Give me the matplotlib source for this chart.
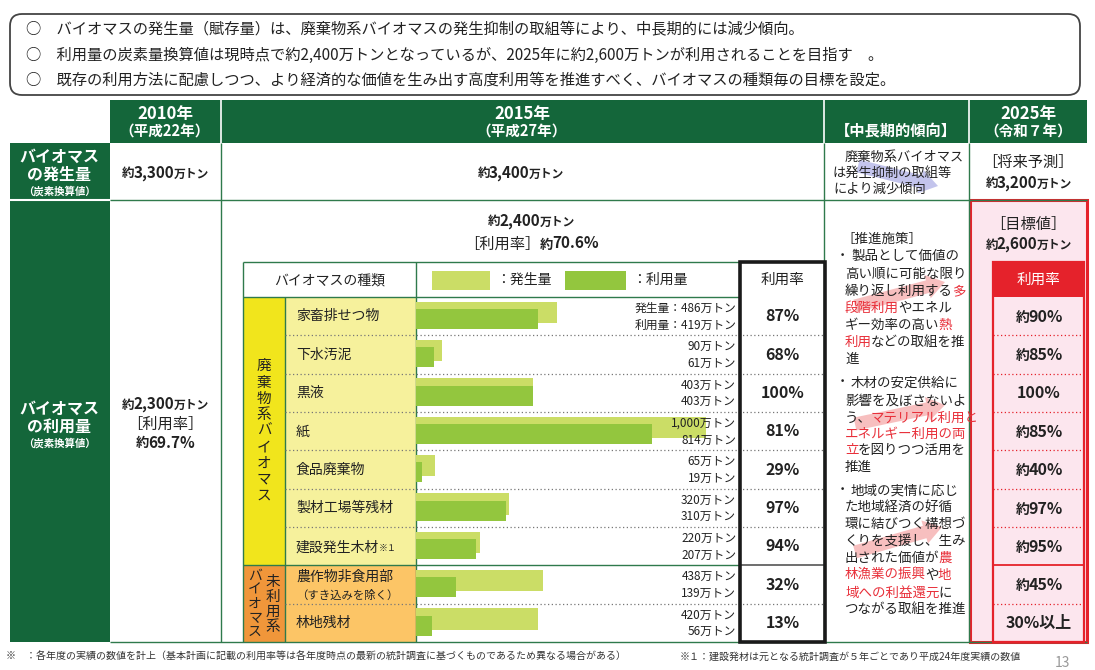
import matplotlib

matplotlib.use("Agg")
import matplotlib.pyplot as plt  # noqa: E402
import numpy as np  # noqa: E402
from matplotlib.patches import FancyArrow, FancyBboxPatch, Rectangle  # noqa: E402

plt.rcParams["font.family"] = ["Noto Sans CJK JP", "DejaVu Sans"]

W, H = 1095, 670

# --- data -------------------------------------------------------------------
SUMMARY = [
    "○　バイオマスの発生量（賦存量）は、廃棄物系バイオマスの発生抑制の取組等により、中長期的には減少傾向。",
    "○　利用量の炭素量換算値は現時点で約2,400万トンとなっているが、2025年に約2,600万トンが利用されることを目指す　。",
    "○　既存の利用方法に配慮しつつ、より経済的な価値を生み出す高度利用等を推進すべく、バイオマスの種類毎の目標を設定。",
]
TYPES = ["家畜排せつ物", "下水汚泥", "黒液", "紙", "食品廃棄物", "製材工場等残材",
         "建設発生木材", "農作物非食用部", "林地残材"]
GENERATED = [486, 90, 403, 1000, 65, 320, 220, 438, 420]   # 万トン
USED = [419, 61, 403, 814, 19, 310, 207, 139, 56]          # 万トン
RATE_2015 = ["87%", "68%", "100%", "81%", "29%", "97%", "94%", "32%", "13%"]
TARGET_2025 = ["約90%", "約85%", "100%", "約85%", "約40%", "約97%", "約95%", "約45%", "30%以上"]
N_WASTE = 7  # first 7 rows are 廃棄物系, the rest 未利用系

# policy text of the 中長期 column: (segment, is_red)
POLICY = [
    [("［推進施策］", 0)],
    [("製品として価値の", 0)],
    [("高い順に可能な限り", 0)],
    [("繰り返し利用する", 0), ("多", 1)],
    [("段階利用", 1), ("やエネル", 0)],
    [("ギー効率の高い", 0), ("熱", 1)],
    [("利用", 1), ("などの取組を推", 0)],
    [("進", 0)],
    [("木材の安定供給に", 0)],
    [("影響を及ぼさないよ", 0)],
    [("う、", 0), ("マテリアル利用と", 1)],
    [("エネルギー利用の両", 1)],
    [("立", 1), ("を図りつつ活用を", 0)],
    [("推進", 0)],
    [("地域の実情に応じ", 0)],
    [("た地域経済の好循", 0)],
    [("環に結びつく構想づ", 0)],
    [("くりを支援し、生み", 0)],
    [("出された価値が", 0), ("農", 1)],
    [("林漁業の振興", 1), ("や", 0), ("地", 1)],
    [("域への利益還元", 1), ("に", 0)],
    [("つながる取組を推進", 0)],
]
POLICY_Y = [238, 255, 273, 290, 307, 324, 341, 358, 382, 400, 417, 433,
            449, 466, 490, 506, 523, 540, 557, 574, 592, 608]
BULLET_LINES = {1, 8, 14}

# --- colours ----------------------------------------------------------------
G_HEAD = "#14663a"
G_LINE = "#2f7a4c"
BAR_GEN = "#cbdd66"
BAR_USE = "#93c63e"
YEL = "#f1e51c"
YEL_L = "#f6f19c"
ORA = "#f0963a"
ORA_L = "#fcc566"
RED = "#e5222b"
RED_TXT = "#e8303a"
PINK = "#fce6ee"
TXT = "#222222"

fig = plt.figure(figsize=(W / 100, H / 100), dpi=100)
ax = fig.add_axes([0, 0, 1, 1])
ax.set_xlim(0, W)
ax.set_ylim(H, 0)
ax.axis("off")
renderer = fig.canvas.get_renderer()


def rect(x0, y0, x1, y1, fc="none", ec="none", lw=1.0, z=1):
    ax.add_patch(Rectangle((x0, y0), x1 - x0, y1 - y0, facecolor=fc,
                           edgecolor=ec, lw=lw, zorder=z))


def hline(y, x0, x1, color=G_LINE, lw=1.0, ls="-", z=3):
    ax.plot([x0, x1], [y, y], color=color, lw=lw, ls=ls, zorder=z,
            solid_capstyle="butt")


def vline(x, y0, y1, color=G_LINE, lw=1.0, z=3):
    ax.plot([x, x], [y0, y1], color=color, lw=lw, zorder=z, solid_capstyle="butt")


def _advance(txt, size, weight):
    # width of txt inside a run of text, without the ink-box trimming
    probe = ax.text(0, 0, "口" + txt + "口", fontsize=size, fontweight=weight)
    ref = ax.text(0, 0, "口口", fontsize=size, fontweight=weight)
    w = probe.get_window_extent(renderer).width - ref.get_window_extent(renderer).width
    probe.remove()
    ref.remove()
    return w


def rich(x, y, segs, ha="center", z=6, tight=1.0):
    """segs: (text, size, weight, color); y is the visual centre line."""
    em = max(s[1] for s in segs) * 100 / 72
    base = y + 0.36 * em
    widths = [_advance(t, s, w) - tight for t, s, w, _ in segs]
    total = sum(widths)
    start = {"center": x - total / 2, "right": x - total}.get(ha, x)
    for (t, s, w, c), wd in zip(segs, widths):
        ax.text(start, base, t, fontsize=s, fontweight=w, color=c,
                va="baseline", ha="left", zorder=z)
        start += wd


def tons(x, y, num, big=11, ha="center", color=TXT):
    rich(x, y, [("約", big - 2, "bold", color), (num, big, "bold", color),
                ("万トン", big - 2.5, "bold", color)], ha=ha)


# --- summary box --------------------------------------------------------------
ax.add_patch(FancyBboxPatch((10, 14), 1070, 81,
                            boxstyle="round,pad=0,rounding_size=12",
                            facecolor="white", edgecolor="#444", lw=1.3, zorder=2))
for i, line in enumerate(SUMMARY):
    ax.text(26, 30 + 25 * i, line, fontsize=11, color=TXT, va="center", zorder=5)

# --- outer table --------------------------------------------------------------
X0, X1, X2, X3, X4, X5 = 10, 110, 221, 824, 969, 1087
Y0, Y1, Y2, Y3 = 100, 143, 200, 642

rect(X1, Y0, X5, Y1, fc=G_HEAD)
rect(X0, Y1, X1, Y3, fc=G_HEAD)
for x in (X2, X3, X4):
    vline(x, Y0, Y1, color="white", lw=1.2, z=2)
hline(Y2, X0, X1, color="white", lw=1.5)

hline(Y2, X1, X5)
hline(Y3, X1, X5)
for x in (X2, X3, X4):
    vline(x, Y1, Y3)

for cx, top, sub in [(165, "2010年", "（平成22年）"), (522, "2015年", "（平成27年）"),
                     (1028, "2025年", "（令和７年）")]:
    ax.text(cx, 114, top, fontsize=12, fontweight="bold", color="white",
            ha="center", va="center", zorder=6)
    ax.text(cx, 131, sub, fontsize=10.5, fontweight="bold", color="white",
            ha="center", va="center", zorder=6)
ax.text(896, 130, "【中長期的傾向】", fontsize=11, fontweight="bold", color="white",
        ha="center", va="center", zorder=6)

for cy, word in [(157, "の発生量"), (409, "の利用量")]:
    ax.text(59, cy, "バイオマス", fontsize=11.5, fontweight="bold", color="white",
            ha="center", va="center", zorder=6)
    ax.text(59, cy + 18, word, fontsize=11.5, fontweight="bold", color="white",
            ha="center", va="center", zorder=6)
    ax.text(59, cy + 34, "（炭素換算値）", fontsize=7.5, fontweight="bold",
            color="white", ha="center", va="center", zorder=6)

# 2010 column
tons(165, 172, "3,300")
tons(165, 403, "2,300")
ax.text(165, 424, "［利用率］", fontsize=11, color=TXT, ha="center", va="center", zorder=6)
rich(165, 442, [("約", 9.5, "bold", TXT), ("69.7%", 11, "bold", TXT)])

# 2015 column
tons(520, 172, "3,400")
tons(531, 220, "2,400")
rich(531, 243, [("［利用率］", 11, "normal", TXT), ("約", 9.5, "bold", TXT),
                ("70.6%", 11, "bold", TXT)])

# 中長期 column
ax.add_patch(FancyArrow(858, 166, 80, 20, width=13, head_width=24, head_length=18,
                        length_includes_head=True, color="#9c9ee0", alpha=0.6,
                        lw=0, zorder=4))
ax.text(845, 157, "廃棄物系バイオマス", fontsize=9.5, color=TXT, va="center", zorder=6)
ax.text(833, 173, "は発生抑制の取組等", fontsize=9.5, color=TXT, va="center", zorder=6)
ax.text(833, 189, "により減少傾向", fontsize=9.5, color=TXT, va="center", zorder=6)

for (xs, ys, xe, ye) in [(855, 306, 945, 282), (855, 424, 945, 405), (855, 552, 942, 527)]:
    ax.add_patch(FancyArrow(xs, ys, xe - xs, ye - ys, width=13, head_width=24,
                            head_length=18, length_includes_head=True,
                            color="#f28c8c", alpha=0.55, lw=0, zorder=4))
for i, (segs, y) in enumerate(zip(POLICY, POLICY_Y)):
    x = 845
    if i in BULLET_LINES:
        ax.text(836, y, "・", fontsize=9.5, color=TXT, va="center", zorder=6)
        x = 851
    if i == 0:
        x = 841
    rich(x, y, [(t, 9.7, "normal", RED_TXT if r else TXT) for t, r in segs],
         ha="left", tight=1.0)

# 2025 column
rect(970, Y2, X5, Y3, fc=PINK, ec=RED, lw=2.2, z=2)
ax.text(1028, 162, "［将来予測］", fontsize=11, color=TXT, ha="center", va="center", zorder=6)
tons(1028, 182, "3,200")
ax.text(1028, 224, "［目標値］", fontsize=11, color=TXT, ha="center", va="center", zorder=6)
tons(1028, 243, "2,600")

# --- inner table (2015 breakdown) -------------------------------------------------
IX0, IX1, IX2, IX3, IX4 = 243, 285, 416, 740, 825
IY0, IY1 = 262, 297
n = len(TYPES)
row_h = (Y3 - IY1) / n
row_top = IY1 + row_h * np.arange(n)
row_mid = row_top + row_h / 2
split_y = IY1 + row_h * N_WASTE

rect(IX0, IY0, IX3, Y3, fc="white", z=2)
rect(IX0, IY1, IX1, split_y, fc=YEL, z=2)
rect(IX1, IY1, IX2, split_y, fc=YEL_L, z=2)
rect(IX0, split_y, IX1, Y3, fc=ORA, z=2)
rect(IX1, split_y, IX2, Y3, fc=ORA_L, z=2)

hline(IY0, IX0, IX3)
hline(IY1, IX0, IX3)
hline(split_y, IX0, IX3)
vline(IX0, IY0, Y3)
vline(IX1, IY1, Y3)
vline(IX2, IY0, Y3)
for y in row_top[1:]:
    if abs(y - split_y) < 1:
        continue
    hline(y, IX1, IX4, color="#777", lw=0.9, ls=(0, (1, 2)), z=3)
hline(split_y, IX3, IX4, color="#555", lw=1.2)
rect(IX3, IY0, IX4, Y3, ec="#1a1a1a", lw=2.6, z=5)

ax.text(330, 280, "バイオマスの種類", fontsize=10, color=TXT, ha="center", va="center", zorder=6)
rect(432, 271, 490, 290, fc=BAR_GEN, z=4)
ax.text(496, 280, "：発生量", fontsize=10, color=TXT, va="center", zorder=6)
rect(565, 271, 626, 290, fc=BAR_USE, z=4)
ax.text(632, 280, "：利用量", fontsize=10, color=TXT, va="center", zorder=6)
ax.text((IX3 + IX4) / 2, 280, "利用率", fontsize=10.5, color=TXT, ha="center",
        va="center", zorder=6)

ax.text(264, (IY1 + split_y) / 2, "\n".join("廃棄物系バイオマス"), fontsize=10.5,
        color=TXT, ha="center", va="center", linespacing=1.2, zorder=6)
ax.text(273, (split_y + Y3) / 2 + 1, "\n".join("未利用系"), fontsize=10.5,
        color=TXT, ha="center", va="center", linespacing=1.1, zorder=6)
ax.text(255, (split_y + Y3) / 2, "\n".join("バイオマス"), fontsize=10,
        color=TXT, ha="center", va="center", linespacing=1.0, zorder=6)

for i, name in enumerate(TYPES):
    y = row_mid[i]
    if name == "建設発生木材":
        rich(296, y, [(name, 10, "normal", TXT), ("※１", 6.5, "normal", TXT)], ha="left")
    elif name == "農作物非食用部":
        ax.text(296, y - 8, name, fontsize=10, color=TXT, va="center", zorder=6)
        ax.text(296, y + 11, "（すき込みを除く）", fontsize=8.2, color=TXT,
                va="center", zorder=6)
    else:
        ax.text(296, y, name, fontsize=10, color=TXT, va="center", zorder=6)
    ax.text((IX3 + IX4) / 2, y, RATE_2015[i], fontsize=11.5, fontweight="bold",
            color=TXT, ha="center", va="center", zorder=6)

# bars on their own axes so widths come from the data
px_per_unit = 0.29
bx = fig.add_axes([IX2 / W, 1 - Y3 / H, (IX3 - IX2) / W, (Y3 - IY1) / H])
bx.set_xlim(0, (IX3 - IX2) / px_per_unit)
bx.set_ylim(n - 0.5, -0.5)
bx.axis("off")
pos = np.arange(n)
bx.barh(pos - 0.1, GENERATED, height=0.55, color=BAR_GEN, zorder=1)
bx.barh(pos + 0.075, USED, height=0.52, color=BAR_USE, zorder=2)
tr = bx.get_yaxis_transform()
for i in range(n):
    top = f"{GENERATED[i]:,}万トン"
    bot = f"{USED[i]:,}万トン"
    if i == 0:
        top, bot = "発生量：" + top, "利用量：" + bot
    bx.text(0.988, i - 0.2, top, transform=tr, fontsize=8.5, color=TXT,
            ha="right", va="center", zorder=5)
    bx.text(0.988, i + 0.23, bot, transform=tr, fontsize=8.5, color=TXT,
            ha="right", va="center", zorder=5)

# 2025 target column
TX0, TX1 = 993, 1084
rect(TX0, IY0, TX1, IY1, fc=RED, z=3)
rect(TX0, IY0, TX1, Y3, ec=RED, lw=1.6, z=5)
ax.text((TX0 + TX1) / 2, 280, "利用率", fontsize=10.5, color="white", ha="center",
        va="center", zorder=6)
for y in row_top[1:]:
    if abs(y - split_y) < 1:
        hline(y, TX0, TX1, color=RED, lw=1.3, z=4)
    else:
        hline(y, TX0, TX1, color=RED, lw=0.9, ls=(0, (1, 2)), z=4)
for i, t in enumerate(TARGET_2025):
    cx = (TX0 + TX1) / 2
    if t.startswith("約"):
        rich(cx, row_mid[i], [("約", 10, "bold", TXT), (t[1:], 11.5, "bold", TXT)])
    else:
        ax.text(cx, row_mid[i], t, fontsize=11.5, fontweight="bold", color=TXT,
                ha="center", va="center", zorder=6)

# --- footnotes ------------------------------------------------------------------
ax.text(6, 657, "※　：各年度の実績の数値を計上（基本計画に記載の利用率等は各年度時点の最新の統計調査に基づくものであるため異なる場合がある）",
        fontsize=7.2, color="#333", va="center", zorder=6)
ax.text(680, 657, "※１：建設発材は元となる統計調査が５年ごとであり平成24年度実績の数値",
        fontsize=7.2, color="#333", va="center", zorder=6)
ax.text(1062, 663, "13", fontsize=10, color="#999", ha="center", va="center", zorder=6)

fig.savefig("out.png", dpi=100)
